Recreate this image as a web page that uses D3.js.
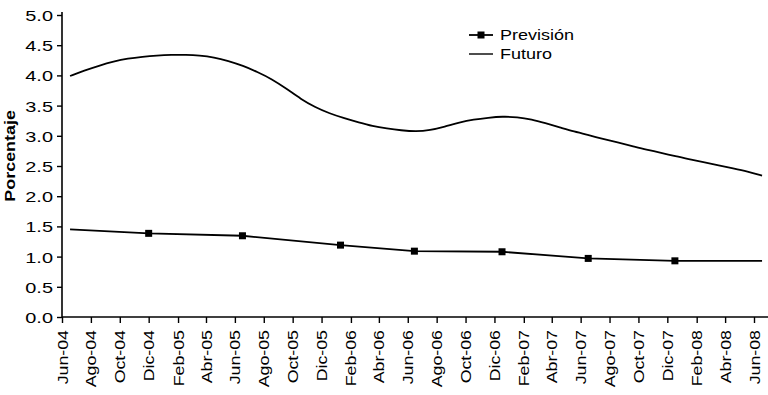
<!DOCTYPE html>
<html>
<head>
<meta charset="utf-8">
<script src="https://cdn.jsdelivr.net/npm/d3@7"></script>
<style>
  html, body { margin: 0; padding: 0; background: #fff; }
  svg { display: block; }
  text { font-family: "Liberation Sans", Arial, sans-serif; fill: #000; }
</style>
</head>
<body>
<svg id="chart" width="768" height="395"></svg>
<script>
// ---- data ----
const tickDates = ["2004-06-01","2004-08-01","2004-10-01","2004-12-01","2005-02-01","2005-04-01",
  "2005-06-01","2005-08-01","2005-10-01","2005-12-01","2006-02-01","2006-04-01",
  "2006-06-01","2006-08-01","2006-10-01","2006-12-01","2007-02-01","2007-04-01",
  "2007-06-01","2007-08-01","2007-10-01","2007-12-01","2008-02-01","2008-04-01","2008-06-01"];
const tickLabels = ["Jun-04","Ago-04","Oct-04","Dic-04","Feb-05","Abr-05",
  "Jun-05","Ago-05","Oct-05","Dic-05","Feb-06","Abr-06",
  "Jun-06","Ago-06","Oct-06","Dic-06","Feb-07","Abr-07",
  "Jun-07","Ago-07","Oct-07","Dic-07","Feb-08","Abr-08","Jun-08"];
const yTicks = [0, 0.5, 1, 1.5, 2, 2.5, 3, 3.5, 4, 4.5, 5];

const futuroDates = ["2004-06-18","2004-07-18","2004-08-18","2004-09-18","2004-10-18","2004-11-18",
  "2004-12-18","2005-01-18","2005-02-18","2005-03-18","2005-04-18","2005-05-18",
  "2005-06-18","2005-07-18","2005-08-18","2005-09-18","2005-10-18","2005-11-18",
  "2005-12-18","2006-01-18","2006-02-18","2006-03-18","2006-04-18","2006-05-18",
  "2006-06-18","2006-07-18","2006-08-18","2006-09-18","2006-10-18","2006-11-18",
  "2006-12-18","2007-01-18","2007-02-18","2007-03-18","2007-04-18","2007-05-18",
  "2007-06-18","2007-07-18","2007-08-18","2007-09-18","2007-10-18","2007-11-18",
  "2007-12-18","2008-01-18","2008-02-18","2008-03-18","2008-04-18","2008-05-18","2008-06-18"];
const futuroValues = [3.99,4.08,4.16,4.23,4.28,4.31,
  4.33,4.34,4.34,4.33,4.30,4.24,
  4.16,4.06,3.94,3.78,3.61,3.47,
  3.37,3.29,3.22,3.16,3.12,3.09,
  3.07,3.09,3.15,3.22,3.27,3.30,
  3.32,3.31,3.27,3.21,3.14,3.07,
  3.01,2.95,2.89,2.83,2.77,2.72,
  2.66,2.61,2.56,2.51,2.46,2.41,2.34];

const previsionDates = ["2004-06-18","2004-12-01","2005-06-17","2006-01-10","2006-06-15",
  "2006-12-17","2007-06-17","2007-12-17","2008-06-18"];
const previsionValues = [1.45,1.385,1.345,1.19,1.09,1.08,0.97,0.93,0.93];
const previsionMarked = [false,true,true,true,true,true,true,true,false];

const seriesNames = ["Previsión","Futuro"];

// ---- layout ----
const svg = d3.select("#chart");
const margin = {left: 62, top: 15, right: 14, bottom: 78};
const W = 768, H = 395;
const parse = d3.timeParse("%Y-%m-%d");

const x = d3.scaleTime()
  .domain([parse(tickDates[0]), parse(tickDates[tickDates.length - 1])])
  .range([margin.left, W - margin.right]);
const y = d3.scaleLinear().domain([0, 5]).range([H - margin.bottom, margin.top]);

// x axis
const xAxis = d3.axisBottom(x)
  .tickValues(tickDates.map(parse))
  .tickFormat((d, i) => tickLabels[i])
  .tickSize(6).tickSizeOuter(0);
const gx = svg.append("g").attr("transform", `translate(0,${y(0)})`).call(xAxis);
gx.select(".domain").remove();
gx.append("line").attr("x1", x.range()[0]).attr("x2", W).attr("y1", 0).attr("y2", 0)
  .attr("stroke", "#000").attr("stroke-width", 1.6);
gx.selectAll(".tick line").attr("stroke", "#000").attr("stroke-width", 1.4);
gx.selectAll(".tick text")
  .attr("font-size", 14)
  .attr("text-anchor", "end")
  .attr("x", 0).attr("y", 0).attr("dy", "0.36em")
  .attr("transform", "translate(0,13) scale(1,1.27) rotate(-90)")
  .style("font-family", "'Liberation Sans', Arial, sans-serif");

// y axis
const yAxis = d3.axisLeft(y).tickValues(yTicks).tickFormat(d3.format(".1f")).tickSize(5).tickSizeOuter(0);
const gy = svg.append("g").attr("transform", `translate(${margin.left},0)`).call(yAxis);
gy.select(".domain").attr("stroke", "#000").attr("stroke-width", 1.6)
  .attr("d", `M0,${y(5) - 3}V${y(0)}`);
gy.selectAll(".tick line").attr("stroke", "#000").attr("stroke-width", 1.4);
gy.selectAll(".tick text")
  .attr("font-size", 15)
  .attr("x", 0).attr("dy", "0.36em")
  .attr("text-anchor", "end")
  .attr("transform", "translate(-9,0) scale(1.33,1)")
  .style("font-family", "'Liberation Sans', Arial, sans-serif");

// y label
svg.append("text")
  .attr("transform", `translate(15,${(y(2) + y(3.5)) / 2 + 5}) scale(1,1.28) rotate(-90)`)
  .attr("text-anchor", "middle")
  .attr("font-size", 14)
  .attr("font-weight", "bold")
  .text("Porcentaje");

// lines
const futData = futuroDates.map((d, i) => ({date: parse(d), v: futuroValues[i]}));
const prevData = previsionDates.map((d, i) => ({date: parse(d), v: previsionValues[i], m: previsionMarked[i]}));

svg.append("path")
  .datum(futData)
  .attr("fill", "none").attr("stroke", "#000").attr("stroke-width", 1.8)
  .attr("d", d3.line().x(d => x(d.date)).y(d => y(d.v)).curve(d3.curveBasis));

svg.append("path")
  .datum(prevData)
  .attr("fill", "none").attr("stroke", "#000").attr("stroke-width", 1.8)
  .attr("d", d3.line().x(d => x(d.date)).y(d => y(d.v)));

const ms = 7;
svg.selectAll("rect.mk").data(prevData.filter(d => d.m)).enter().append("rect")
  .attr("class", "mk")
  .attr("x", d => x(d.date) - ms / 2).attr("y", d => y(d.v) - ms / 2)
  .attr("width", ms).attr("height", ms).attr("fill", "#000");

// legend
const lg = svg.append("g").attr("transform", "translate(469,35)");
seriesNames.forEach((name, i) => {
  const gy0 = i * 19;
  lg.append("line").attr("x1", 0).attr("x2", 24).attr("y1", gy0).attr("y2", gy0)
    .attr("stroke", "#000").attr("stroke-width", i === 0 ? 1.8 : 1.4);
  if (i === 0) lg.append("rect").attr("x", 12 - 3.5).attr("y", gy0 - 3.5).attr("width", 7).attr("height", 7).attr("fill", "#000");
  lg.append("text").attr("transform", `translate(31,${gy0}) scale(1.2,1)`)
    .attr("dy", "0.36em").attr("font-size", 15).text(name);
});
</script>
</body>
</html>
